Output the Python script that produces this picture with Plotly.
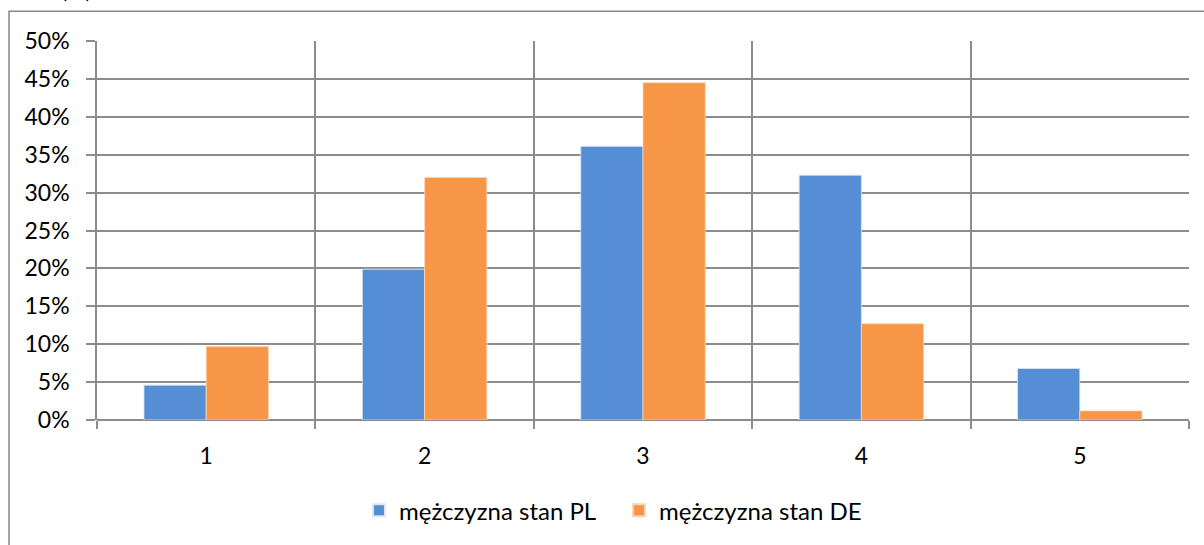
import plotly.graph_objects as go

categories = [1, 2, 3, 4, 5]
tick_labels = ["1", "2", "3", "4", "5"]
pl_values = [0.046, 0.199, 0.361, 0.323, 0.068]
de_values = [0.097, 0.320, 0.445, 0.127, 0.012]
series_names = ["mężczyzna stan PL", "mężczyzna stan DE"]

FONT = "Lato"
GRID = "#8C8C8C"

fig = go.Figure()
fig.add_trace(go.Bar(
    x=categories, y=pl_values, name=series_names[0],
    marker=dict(color="#558ED5", line=dict(color="#DCE6F4", width=0.8)),
))
fig.add_trace(go.Bar(
    x=categories, y=de_values, name=series_names[1],
    marker=dict(color="#F79646", line=dict(color="#FBD5B5", width=0.8)),
))

fig.update_layout(
    width=1204, height=545,
    margin=dict(l=97, r=15, t=41, b=123),
    paper_bgcolor="white", plot_bgcolor="white",
    barmode="group", bargap=0.43, bargroupgap=0,
    font=dict(family=FONT, size=23, color="black"),
    showlegend=True,
    legend=dict(
        orientation="h", x=0.478, xanchor="center", y=-0.239, yanchor="middle",
        font=dict(size=24), itemsizing="constant", traceorder="normal",
        entrywidth=215,
    ),
)

# category boundaries drawn as minor grid / ticks
fig.update_xaxes(
    range=[0.5, 5.5], tickvals=categories, ticktext=tick_labels,
    showgrid=False, ticks="", ticklabelstandoff=20, zeroline=False,
    showline=False,
    minor=dict(tick0=0.5, dtick=1, showgrid=True, gridcolor=GRID, gridwidth=1.5,
               ticks="outside", ticklen=8, tickcolor=GRID, tickwidth=1.5),
)
fig.update_yaxes(
    range=[0, 0.5], dtick=0.05, tickformat=".0%",
    showgrid=True, gridcolor=GRID, gridwidth=1.5,
    ticks="outside", ticklen=9, tickcolor=GRID, tickwidth=1.5,
    ticklabelstandoff=12,
    showline=True, linecolor=GRID, linewidth=1.5,
    zeroline=True, zerolinecolor=GRID, zerolinewidth=1.5,
)

# outer chart border (left and top edges visible)
fig.add_shape(type="rect", xref="paper", yref="paper",
              x0=-0.0806, x1=1.1, y0=-0.5, y1=1.0787,
              line=dict(color="#888888", width=1.5), layer="below")

# clipped title fragment at top left, cut off by the top edge as in the source
fig.add_annotation(text="(%)", xref="paper", yref="paper",
                   x=-0.0188, y=1.096, xanchor="center", yanchor="bottom",
                   showarrow=False, font=dict(size=23, family=FONT))

fig.write_html("out.html", config={"displayModeBar": False},
               post_script="document.body.style.margin='0';")
